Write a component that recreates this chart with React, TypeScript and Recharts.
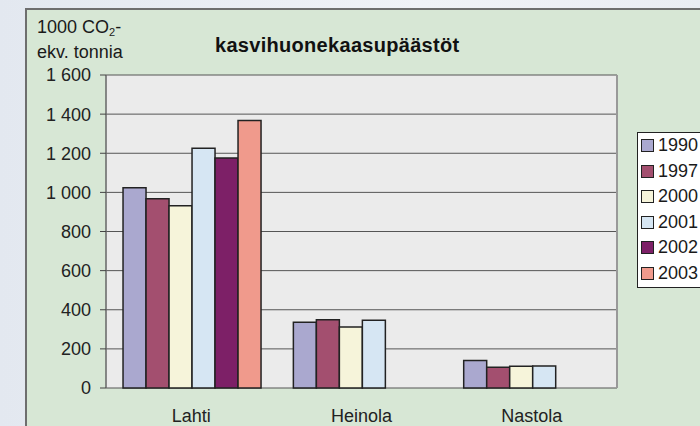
import React from 'react';
import { BarChart, Bar, XAxis, YAxis, CartesianGrid } from 'recharts';

// kasvihuonekaasupäästöt, 1000 CO2-ekv. tonnia
const categories = ['Lahti', 'Heinola', 'Nastola'];
const years = ['1990', '1997', '2000', '2001', '2002', '2003'];
const v1990 = [1024, 336, 140];
const v1997 = [968, 349, 106];
const v2000 = [932, 312, 111];
const v2001 = [1225, 346, 112];
const v2002 = [1176, null, null];
const v2003 = [1368, null, null];
const yTicks = [0, 200, 400, 600, 800, 1000, 1200, 1400, 1600];

const COLORS = ['#aaa8cf', '#a34f6f', '#f6f4da', '#d6e6f3', '#7d2067', '#f09a8c'];
const FONT = '"Liberation Sans", Arial, sans-serif';

const series = [v1990, v1997, v2000, v2001, v2002, v2003];

const data = categories.map((name, i) => {
  const row: Record<string, string | number | null> = { name };
  years.forEach((y, k) => {
    row[y] = series[k][i];
  });
  return row;
});

const fmt = (v: number) => String(v).replace(/\B(?=(\d{3})+(?!\d))/g, ' ');

const App = () => {
  return (
    <div
      style={{
        position: 'absolute',
        left: 0,
        top: 0,
        width: 700,
        height: 426,
        overflow: 'hidden',
        background: 'linear-gradient(90deg, #e3e8f0 0%, #f0f2f7 60%, #eaedf3 100%)',
        fontFamily: FONT,
      }}
    >
      {/* green panel */}
      <div
        style={{
          position: 'absolute',
          left: 25,
          top: 8,
          width: 700,
          height: 430,
          background: '#d7e7d5',
          borderTop: '2px solid #6e6e6e',
          borderLeft: '2px solid #6e6e6e',
        }}
      />
      <div style={{ position: 'absolute', left: 0, top: 0 }}>
        <BarChart
          width={700}
          height={426}
          data={data}
          margin={{ top: 75, right: 0, left: 0, bottom: 0 }}
          barCategoryGap="10%"
          barGap={0}
        >
          <CartesianGrid
            xAxisId="cat"
            yAxisId="l"
            vertical={false}
            stroke="#555"
            fill="#ebebeb"
            fillOpacity={1}
          />
          <XAxis
            xAxisId="b"
            type="number"
            domain={[0, 3]}
            ticks={[0, 1, 2, 3]}
            allowDataOverflow
            height={0}
            tick={false}
            tickSize={5}
            tickLine={{ stroke: '#555' }}
            axisLine={{ stroke: '#555', strokeWidth: 1.5 }}
          />
          <XAxis
            xAxisId="cat"
            dataKey="name"
            height={38}
            axisLine={false}
            tickLine={false}
            tickSize={6}
            tickMargin={15}
            tick={{ fill: '#222', fontSize: 18, fontFamily: FONT }}
          />
          <YAxis
            yAxisId="l"
            width={106}
            domain={[0, 1600]}
            ticks={yTicks}
            interval={0}
            tickFormatter={fmt}
            tickSize={6}
            tickMargin={9}
            tickLine={{ stroke: '#444' }}
            axisLine={{ stroke: '#666', strokeWidth: 1.5 }}
            tick={{ fill: '#222', fontSize: 18, fontFamily: FONT }}
          />
          <YAxis
            yAxisId="r"
            orientation="right"
            width={83}
            domain={[0, 1600]}
            tick={false}
            tickLine={false}
            axisLine={{ stroke: '#999', strokeWidth: 2 }}
          />
          {years.map((y, k) => (
            <Bar
              key={y}
              dataKey={y}
              xAxisId="cat"
              yAxisId="l"
              fill={COLORS[k]}
              stroke="#222"
              strokeWidth={1.5}
              isAnimationActive={false}
            />
          ))}
        </BarChart>
      </div>

      {/* axis unit */}
      <div
        style={{
          position: 'absolute',
          left: 37,
          top: 17,
          fontSize: 18,
          lineHeight: '20px',
          color: '#1a1a1a',
        }}
      >
        1000 CO<sub style={{ fontSize: 11, verticalAlign: -3 }}>2</sub>-
        <br />
        ekv. tonnia
      </div>

      {/* title */}
      <div
        style={{
          position: 'absolute',
          left: 215,
          top: 34,
          fontSize: 20,
          fontWeight: 'bold',
          color: '#111',
          letterSpacing: 0.3,
        }}
      >
        kasvihuonekaasupäästöt
      </div>

      {/* legend */}
      <div
        style={{
          position: 'absolute',
          left: 637,
          top: 132,
          width: 90,
          height: 154,
          background: '#fff',
          border: '1px solid #222',
        }}
      >
        {years.map((y, k) => (
          <div
            key={y}
            style={{
              display: 'flex',
              alignItems: 'center',
              height: 25.5,
              paddingLeft: 3,
              fontSize: 18,
              color: '#1a1a1a',
            }}
          >
            <span
              style={{
                display: 'inline-block',
                width: 11,
                height: 11,
                background: COLORS[k],
                border: '1.5px solid #222',
                marginRight: 4,
              }}
            />
            {y}
          </div>
        ))}
      </div>
    </div>
  );
};

export default App;
